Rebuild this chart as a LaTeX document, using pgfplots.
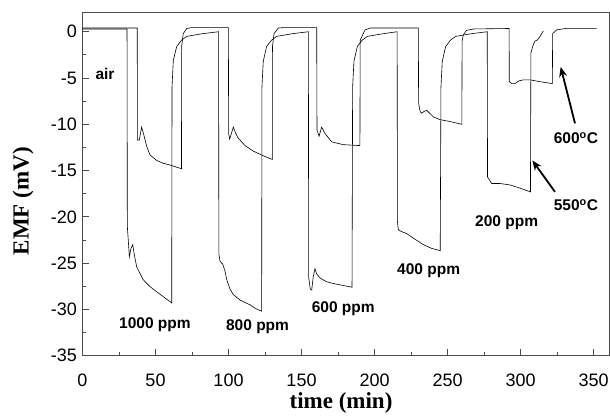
\documentclass[border=0pt]{standalone}
\usepackage{fontspec}
\setmainfont{Liberation Serif}
\newfontfamily\arial{Liberation Sans}
\usepackage{pgfplots}
\pgfplotsset{compat=1.18}
\usetikzlibrary{arrows.meta}
\begin{document}
\begin{tikzpicture}
\begin{axis}[
 scale only axis, width=526.5pt, height=343.4pt,
 xmin=0, xmax=360.6, ymin=-35, ymax=2.1,
 axis line style={black!70, line width=0.8pt},
 tick align=inside, tick pos=left,
 xtick={0,50,100,150,200,250,300,350}, xticklabels={0,50,100,150,200,250,300,350},
 minor xtick={25,75,125,175,225,275,325},
 ytick={-35,-30,-25,-20,-15,-10,-5,0}, yticklabels={-35,-30,-25,-20,-15,-10,-5,0},
 minor ytick={-32.5,-27.5,-22.5,-17.5,-12.5,-7.5,-2.5},
 major tick length=6.5pt, minor tick length=4pt,
 every tick/.style={black!70, line width=0.8pt},
 ticklabel style={font=\arial\fontsize{18}{18}\selectfont},
 xticklabel style={yshift=-15pt},
 yticklabel style={xshift=-2pt},
 xlabel={\bfseries time (min)}, ylabel={\bfseries EMF (mV)},
 label style={font=\fontsize{23}{23}\selectfont},
 xlabel style={at={(axis description cs:0.491,-0.137)}, anchor=center},
 ylabel style={at={(axis description cs:-0.113,0.45)}, anchor=center},
 clip=false,
]
% 550 C
\addplot[black, line width=0.6pt] coordinates {
(0,0.3) (30.5,0.3) (30.7,-21.0) (32.1,-24.3) (33.2,-23.4) (34.4,-23.0) (35.6,-24.2) (37.1,-25.4) (41.6,-26.8) (46,-27.5) (50.8,-28.1) (56,-28.7) (61.1,-29.3)
(61.3,-6.0) (62.2,-3.1) (64.5,-1.6) (67.9,-0.9) (71.4,-0.5) (82.7,-0.2) (93.2,0)
(93.4,-24.0) (94.2,-24.8) (96.0,-25.1) (97.5,-25.8) (98.8,-26.8) (101,-27.8) (103.3,-28.4) (108,-29.0) (114.7,-29.5) (118.5,-29.9) (122.7,-30.2)
(122.9,-6.0) (123.8,-3.2) (126.1,-1.6) (129.5,-0.9) (133,-0.5) (144.3,-0.2) (154.7,0)
(154.9,-26.5) (156,-27.8) (157,-27.9) (158,-26.5) (159.2,-25.6) (160.5,-26.2) (162.7,-26.6) (167,-27.0) (171.8,-27.2) (178,-27.4) (184.6,-27.6)
(185,-6.0) (185.9,-3.2) (188.2,-1.6) (191.6,-0.9) (195.1,-0.5) (206.4,-0.2) (215.5,0)
(215.7,-20.5) (216.3,-21.4) (218.6,-21.6) (222,-21.8) (226.6,-22.3) (233.4,-23.0) (239,-23.4) (245,-23.65)
(245.5,-6.0) (246.4,-3.2) (248.7,-1.6) (252.1,-0.9) (255.6,-0.5) (266.9,-0.2) (277.2,0)
(277.4,-15.7) (280.3,-16.4) (286,-16.4) (292.8,-16.55) (299.7,-16.9) (306.8,-17.3)
(307.1,-2.3) (308.5,-1.5) (309.9,-1.0) (311.5,-0.9) (313.4,-0.5) (315.6,0.1)
};
% 600 C
\addplot[black, line width=0.6pt] coordinates {
(0,0.4) (37.5,0.4) (37.6,-11.7) (38.9,-11.7) (40.5,-10.3) (42.1,-11.2) (44,-12.4) (46.2,-13.3) (50.8,-13.9) (55,-14.2) (59.9,-14.4) (67.8,-14.8)
(67.9,-1.6) (69,-0.2) (71.4,0.35) (75,0.45) (99.9,0.45)
(100.1,-11.0) (100.8,-11.6) (103.3,-10.3) (105,-11.0) (106.7,-11.5) (111.3,-12.3) (117,-12.9) (123.8,-13.4) (128.4,-13.7) (130,-13.8)
(130.1,-1.6) (131.2,-0.2) (134.1,0.4) (138,0.45) (160.4,0.45)
(160.6,-10.6) (162,-11.3) (163.8,-10.3) (166.1,-11.0) (170.7,-11.9) (178.6,-12.2) (190,-12.3)
(190.2,-0.9) (193.5,0.2) (197,0.4) (230,0.4)
(230.2,-7.7) (231.2,-8.6) (232.3,-8.8) (234,-8.6) (235.8,-8.5) (240.3,-9.2) (245,-9.5) (251.7,-9.7) (259.8,-10.0)
(260,-1.0) (260.8,-0.35) (263,0.15) (268,0.3) (292.2,0.35)
(292.3,-5.4) (294,-5.6) (296.2,-5.6) (299,-5.3) (301.9,-5.2) (306.5,-5.2) (313.4,-5.4) (321.8,-5.6)
(322,-0.2) (324.8,0.2) (331.6,0.37) (352.2,0.37)
};
\begin{scope}[every node/.style={font=\arial\bfseries\fontsize{15.5}{15.5}\selectfont, anchor=center}]
\node at (axis cs:15.4,-4.57) {air};
\node at (axis cs:49.6,-31.6) {1000 ppm};
\node at (axis cs:119.9,-31.85) {800 ppm};
\node at (axis cs:178.6,-29.9) {600 ppm};
\node at (axis cs:237.1,-25.8) {400 ppm};
\node at (axis cs:290.5,-20.6) {200 ppm};
\node at (axis cs:337.9,-18.7) {550\textsuperscript{o}C};
\node at (axis cs:337.9,-11.5) {600\textsuperscript{o}C};
\end{scope}
\draw[black, line width=1.8pt, -{Stealth[length=10pt,width=8pt]}] (axis cs:337.3,-9.9) -- (axis cs:327.5,-3.8);
\draw[black, line width=1.8pt, -{Stealth[length=10pt,width=8pt]}] (axis cs:323.6,-17.3) -- (axis cs:308.1,-13.9);
\end{axis}
\pgfresetboundingbox
\path (-82.5pt,-60.3pt) rectangle (527.5pt,355.7pt);
\end{tikzpicture}
\end{document}
